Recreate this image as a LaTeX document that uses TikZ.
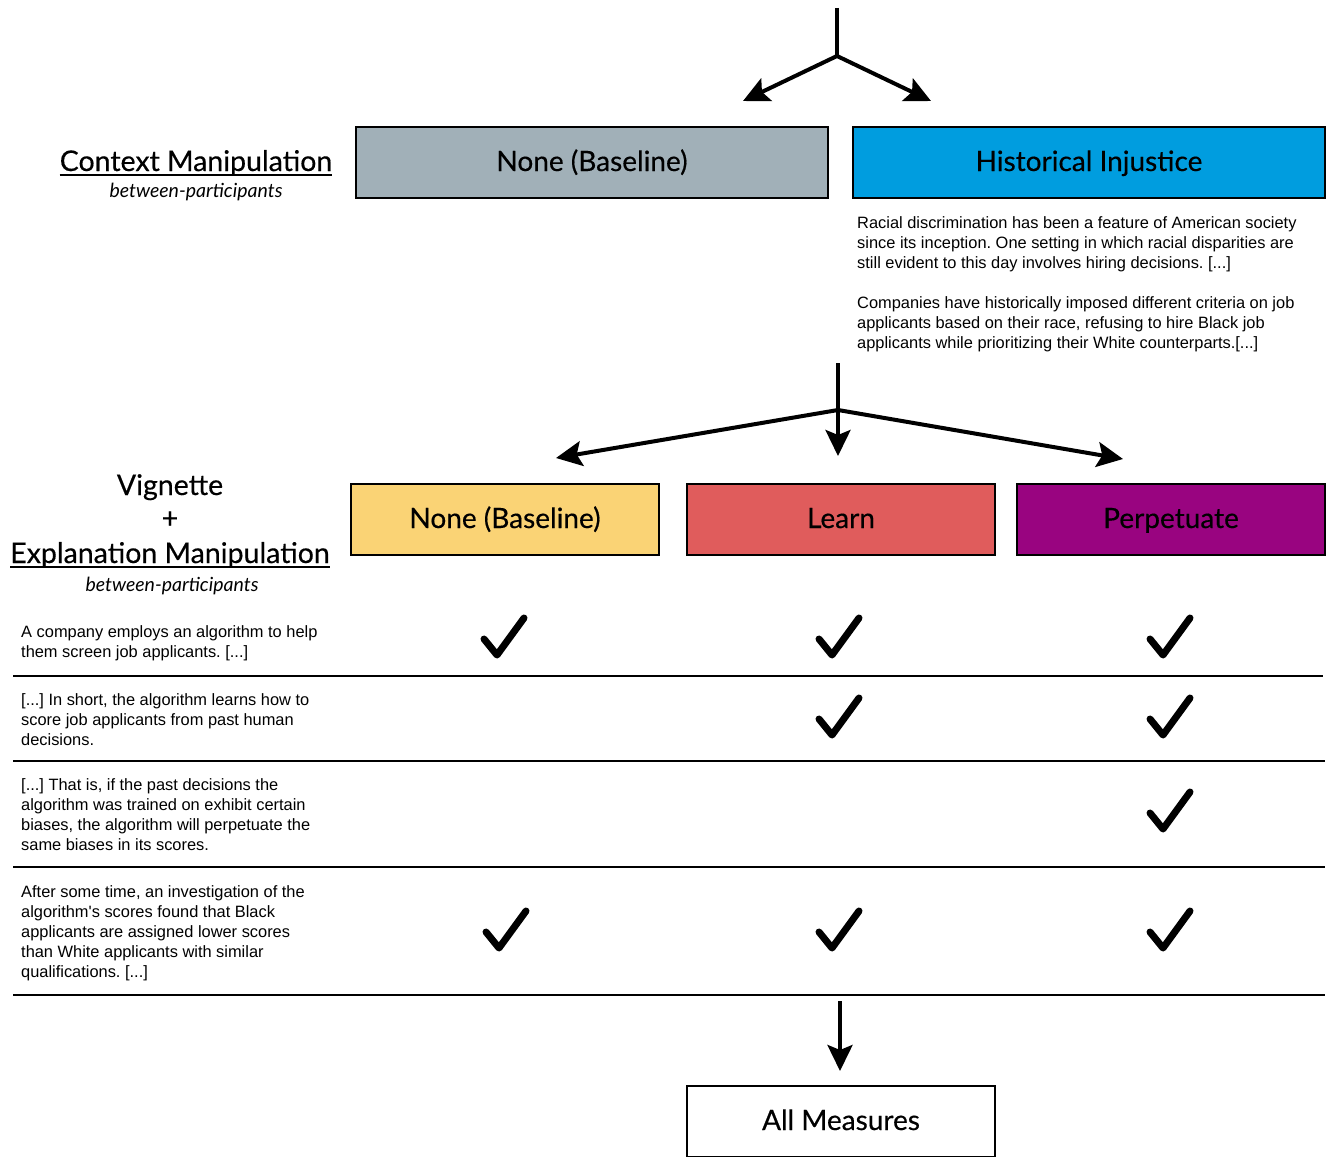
\documentclass[tikz,border=0pt]{standalone}
\usepackage{fontspec}
\setmainfont{Lato}[UprightFeatures={FakeBold=0.4}]
\newfontfamily\arialf{Liberation Sans}
\usetikzlibrary{arrows.meta}
\definecolor{cgray}{RGB}{161,176,184}
\definecolor{cblue}{RGB}{0,157,223}
\definecolor{cyellow}{RGB}{250,211,117}
\definecolor{cred}{RGB}{224,92,92}
\definecolor{cpurple}{RGB}{153,4,128}
\frenchspacing
\begin{document}
\begin{tikzpicture}[x=1pt,y=-1pt,
  box/.style={draw=black, line width=2pt, minimum height=71pt, inner sep=0pt, text height=21pt, text depth=4pt, font=\fontsize{28}{32}\selectfont},
  widebox/.style={box, minimum width=472pt},
  narrowbox/.style={box, minimum width=308pt},
  arr/.style={line width=4pt, -{Stealth[length=26pt,width=25pt,inset=5pt]}},
  stem/.style={line width=4pt},
  rule/.style={line width=2.5pt},
  head/.style={inner sep=0pt, anchor=base, font=\fontsize{28.5}{32}\selectfont},
  sub/.style={inner sep=0pt, anchor=base, font=\fontsize{19.5}{22}\selectfont\itshape},
  para/.style={inner sep=0pt, anchor=north west, align=left, font=\arialf\fontsize{16.4}{20}\selectfont},
  chk/.pic={\draw[line width=7pt, line cap=round, line join=round] (-20,2) -- (-7,18) -- (20,-19);}
]
\useasboundingbox (0,0) rectangle (1327,1156);

% top split
\coordinate (t0) at (837,8);
\coordinate (t1) at (837,56);
\coordinate (ta) at (743,101);
\coordinate (tb) at (931,101);
\draw[stem] (t0) -- (t1);
\draw[arr] (t1) -- (ta);
\draw[arr] (t1) -- (tb);

% context boxes
\node[widebox, fill=cgray] (none1) at (592,162.5) {None (Baseline)};
\node[widebox, fill=cblue] (hist) at (1089,162.5) {Historical Injustice};

\node[head] (ctx) at (196,171) {Context Manipulation};
\draw[line width=2pt] ([yshift=-4pt]ctx.base west) -- ([yshift=-4pt]ctx.base east);
\node[sub] (ctxsub) at (196,197) {between-participants};

\node[para] (histtext) at (857,216.5) {Racial discrimination has been a feature of American society\\
since its inception. One setting in which racial disparities are\\
still evident to this day involves hiring decisions. [...]\\[20pt]
Companies have historically imposed different criteria on job\\
applicants based on their race, refusing to hire Black job\\
applicants while prioritizing their White counterparts.[...]};

% second split
\coordinate (s0) at (838,363);
\coordinate (s1) at (838,410);
\coordinate (sa) at (556,458);
\coordinate (sb) at (838,456);
\coordinate (sc) at (1123,459);
\draw[stem] (s0) -- (s1);
\draw[arr] (s1) -- (sa);
\draw[arr] (s1) -- (sb);
\draw[arr] (s1) -- (sc);

% explanation boxes
\node[narrowbox, fill=cyellow] (none2) at (505,519.5) {None (Baseline)};
\node[narrowbox, fill=cred] (learn) at (841,519.5) {Learn};
\node[narrowbox, fill=cpurple] (perp) at (1171,519.5) {Perpetuate};

\node[head] (vig) at (170,495) {Vignette};
\node[head] (plus) at (170,528) {+};
\node[head] (expl) at (170,563) {Explanation Manipulation};
\draw[line width=2pt] ([yshift=-4pt]expl.base west) -- ([yshift=-4pt]expl.base east);
\node[sub] (explsub) at (172,591) {between-participants};

% rows
\node[para] (r1) at (21,625.5) {A company employs an algorithm to help\\them screen job applicants. [...]};
\node[para] (r2) at (21,693.5) {[...] In short, the algorithm learns how to\\score job applicants from past human\\decisions.};
\node[para] (r3) at (21,778.5) {[...] That is, if the past decisions the\\algorithm was trained on exhibit certain\\biases, the algorithm will perpetuate the\\same biases in its scores.};
\node[para] (r4) at (21,885.5) {After some time, an investigation of the\\algorithm's scores found that Black\\applicants are assigned lower scores\\than White applicants with similar\\qualifications. [...]};

\coordinate (l1a) at (13,676); \coordinate (l1b) at (1323,676);
\coordinate (l2a) at (13,761); \coordinate (l2b) at (1325,761);
\coordinate (l3a) at (13,867); \coordinate (l3b) at (1325,867);
\coordinate (l4a) at (13,995); \coordinate (l4b) at (1325,995);
\draw[rule] (l1a) -- (l1b);
\draw[rule] (l2a) -- (l2b);
\draw[rule] (l3a) -- (l3b);
\draw[rule] (l4a) -- (l4b);

% checks
\pic at (504,637) {chk};
\pic at (839,637) {chk};
\pic at (1170,637) {chk};
\pic at (839,717) {chk};
\pic at (1170,717) {chk};
\pic at (1170,811) {chk};
\pic at (506,930) {chk};
\pic at (839,930) {chk};
\pic at (1170,930) {chk};

% bottom
\coordinate (b0) at (840,1001);
\coordinate (b1) at (840,1071);
\draw[arr] (b0) -- (b1);
\node[narrowbox] (meas) at (841,1121.5) {All Measures};
\end{tikzpicture}
\end{document}
